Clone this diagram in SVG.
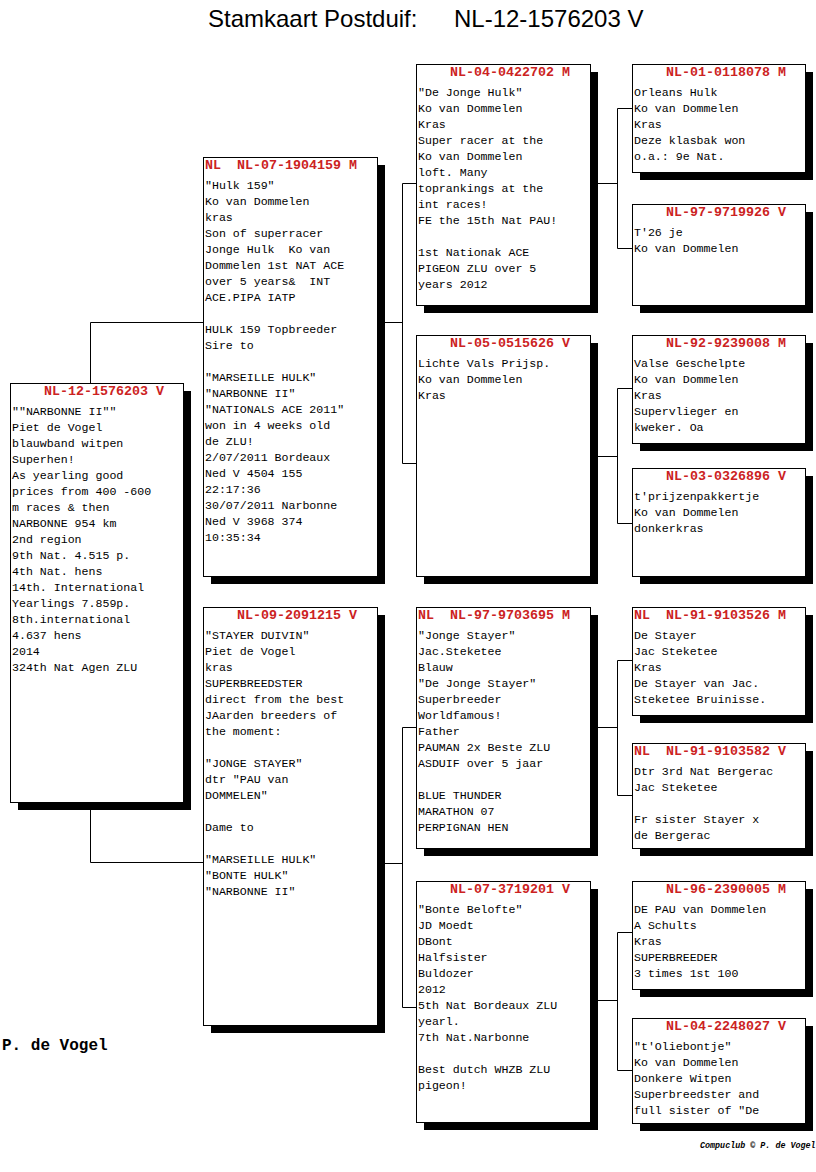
<svg xmlns="http://www.w3.org/2000/svg" width="816" height="1172" viewBox="0 0 816 1172">
<style>
.sh{fill:#000}
.box{fill:#fff;stroke:#000;stroke-width:1}
.hd{font-family:"Liberation Mono","Courier New",monospace;font-size:13.33px;font-weight:bold;fill:#cc2222}
.tx{font-family:"Liberation Mono","Courier New",monospace;font-size:11.6px;fill:#000}
.ln{stroke:#000;stroke-width:1;fill:none}
</style>
<rect width="816" height="1172" fill="#fff"/>
<text x="208" y="27" font-family="Liberation Sans, Arial, sans-serif" font-size="24" fill="#000">Stamkaart Postduif:</text>
<text x="454" y="27" font-family="Liberation Sans, Arial, sans-serif" font-size="24" fill="#000">NL-12-1576203 V</text>
<g id="connectors" class="ln">
<path d="M90.5 383V322.5H203"/>
<path d="M90.5 802V862.5H203"/>
<path d="M377 322.5H402.5M402.5 183.5V463.5M402.5 183.5H416M402.5 463.5H416"/>
<path d="M377 863.5H402.5M402.5 727.5V1007.5M402.5 727.5H416M402.5 1007.5H416"/>
<path d="M590 183.5H617.5M617.5 108.5V248.5M617.5 108.5H632M617.5 248.5H632"/>
<path d="M590 456.5H617.5M617.5 388.5V523.5M617.5 388.5H632M617.5 523.5H632"/>
<path d="M590 727.5H617.5M617.5 660.5V795.5M617.5 660.5H632M617.5 795.5H632"/>
<path d="M590 1000.5H617.5M617.5 932.5V1070.5M617.5 932.5H632M617.5 1070.5H632"/>
</g>
<g id="n_main">
<rect class="sh" x="18" y="391" width="173" height="419"/>
<rect class="box" x="10.5" y="383.5" width="173" height="419"/>
<text class="hd" x="12" y="395" xml:space="preserve">    NL-12-1576203 V</text>
<text class="tx" x="12">
<tspan x="12" y="415">""NARBONNE II""</tspan>
<tspan x="12" y="431">Piet de Vogel</tspan>
<tspan x="12" y="447">blauwband witpen</tspan>
<tspan x="12" y="463">Superhen!</tspan>
<tspan x="12" y="479">As yearling good</tspan>
<tspan x="12" y="495">prices from 400 -600</tspan>
<tspan x="12" y="511">m races &amp; then</tspan>
<tspan x="12" y="527">NARBONNE 954 km</tspan>
<tspan x="12" y="543">2nd region</tspan>
<tspan x="12" y="559">9th Nat. 4.515 p.</tspan>
<tspan x="12" y="575">4th Nat. hens</tspan>
<tspan x="12" y="591">14th. International</tspan>
<tspan x="12" y="607">Yearlings 7.859p.</tspan>
<tspan x="12" y="623">8th.international</tspan>
<tspan x="12" y="639">4.637 hens</tspan>
<tspan x="12" y="655">2014</tspan>
<tspan x="12" y="671">324th Nat Agen ZLU</tspan>
</text>
</g>
<g id="n_sire">
<rect class="sh" x="211" y="165" width="174" height="419"/>
<rect class="box" x="203.5" y="157.5" width="174" height="419"/>
<text class="hd" x="205" y="169" xml:space="preserve">NL  NL-07-1904159 M</text>
<text class="tx" xml:space="preserve">
<tspan x="205" y="189">"Hulk 159"</tspan>
<tspan x="205" y="205">Ko van Dommelen</tspan>
<tspan x="205" y="221">kras</tspan>
<tspan x="205" y="237">Son of superracer</tspan>
<tspan x="205" y="253">Jonge Hulk  Ko van</tspan>
<tspan x="205" y="269">Dommelen 1st NAT ACE</tspan>
<tspan x="205" y="285">over 5 years&amp;  INT</tspan>
<tspan x="205" y="301">ACE.PIPA IATP</tspan>
<tspan x="205" y="333">HULK 159 Topbreeder</tspan>
<tspan x="205" y="349">Sire to</tspan>
<tspan x="205" y="381">"MARSEILLE HULK"</tspan>
<tspan x="205" y="397">"NARBONNE II"</tspan>
<tspan x="205" y="413">"NATIONALS ACE 2011"</tspan>
<tspan x="205" y="429">won in 4 weeks old</tspan>
<tspan x="205" y="445">de ZLU!</tspan>
<tspan x="205" y="461">2/07/2011 Bordeaux</tspan>
<tspan x="205" y="477">Ned V 4504 155</tspan>
<tspan x="205" y="493">22:17:36</tspan>
<tspan x="205" y="509">30/07/2011 Narbonne</tspan>
<tspan x="205" y="525">Ned V 3968 374</tspan>
<tspan x="205" y="541">10:35:34</tspan>
</text>
</g>
<g id="n_dam">
<rect class="sh" x="211" y="615" width="174" height="418"/>
<rect class="box" x="203.5" y="607.5" width="174" height="418"/>
<text class="hd" x="205" y="619" xml:space="preserve">    NL-09-2091215 V</text>
<text class="tx">
<tspan x="205" y="639">"STAYER DUIVIN"</tspan>
<tspan x="205" y="655">Piet de Vogel</tspan>
<tspan x="205" y="671">kras</tspan>
<tspan x="205" y="687">SUPERBREEDSTER</tspan>
<tspan x="205" y="703">direct from the best</tspan>
<tspan x="205" y="719">JAarden breeders of</tspan>
<tspan x="205" y="735">the moment:</tspan>
<tspan x="205" y="767">"JONGE STAYER"</tspan>
<tspan x="205" y="783">dtr "PAU van</tspan>
<tspan x="205" y="799">DOMMELEN"</tspan>
<tspan x="205" y="831">Dame to</tspan>
<tspan x="205" y="863">"MARSEILLE HULK"</tspan>
<tspan x="205" y="879">"BONTE HULK"</tspan>
<tspan x="205" y="895">"NARBONNE II"</tspan>
</text>
</g>
<g id="n_ss">
<rect class="sh" x="424" y="72" width="174" height="241"/>
<rect class="box" x="416.5" y="64.5" width="174" height="241"/>
<text class="hd" x="418" y="76" xml:space="preserve">    NL-04-0422702 M</text>
<text class="tx">
<tspan x="418" y="96">"De Jonge Hulk"</tspan>
<tspan x="418" y="112">Ko van Dommelen</tspan>
<tspan x="418" y="128">Kras</tspan>
<tspan x="418" y="144">Super racer at the</tspan>
<tspan x="418" y="160">Ko van Dommelen</tspan>
<tspan x="418" y="176">loft. Many</tspan>
<tspan x="418" y="192">toprankings at the</tspan>
<tspan x="418" y="208">int races!</tspan>
<tspan x="418" y="224">FE the 15th Nat PAU!</tspan>
<tspan x="418" y="256">1st Nationak ACE</tspan>
<tspan x="418" y="272">PIGEON ZLU over 5</tspan>
<tspan x="418" y="288">years 2012</tspan>
</text>
</g>
<g id="n_sd">
<rect class="sh" x="424" y="343" width="174" height="241"/>
<rect class="box" x="416.5" y="335.5" width="174" height="241"/>
<text class="hd" x="418" y="347" xml:space="preserve">    NL-05-0515626 V</text>
<text class="tx">
<tspan x="418" y="367">Lichte Vals Prijsp.</tspan>
<tspan x="418" y="383">Ko van Dommelen</tspan>
<tspan x="418" y="399">Kras</tspan>
</text>
</g>
<g id="n_ds">
<rect class="sh" x="424" y="615" width="174" height="241"/>
<rect class="box" x="416.5" y="607.5" width="174" height="241"/>
<text class="hd" x="418" y="619" xml:space="preserve">NL  NL-97-9703695 M</text>
<text class="tx">
<tspan x="418" y="639">"Jonge Stayer"</tspan>
<tspan x="418" y="655">Jac.Steketee</tspan>
<tspan x="418" y="671">Blauw</tspan>
<tspan x="418" y="687">"De Jonge Stayer"</tspan>
<tspan x="418" y="703">Superbreeder</tspan>
<tspan x="418" y="719">Worldfamous!</tspan>
<tspan x="418" y="735">Father</tspan>
<tspan x="418" y="751">PAUMAN 2x Beste ZLU</tspan>
<tspan x="418" y="767">ASDUIF over 5 jaar</tspan>
<tspan x="418" y="799">BLUE THUNDER</tspan>
<tspan x="418" y="815">MARATHON 07</tspan>
<tspan x="418" y="831">PERPIGNAN HEN</tspan>
</text>
</g>
<g id="n_dd">
<rect class="sh" x="424" y="889" width="174" height="241"/>
<rect class="box" x="416.5" y="881.5" width="174" height="241"/>
<text class="hd" x="418" y="893" xml:space="preserve">    NL-07-3719201 V</text>
<text class="tx">
<tspan x="418" y="913">"Bonte Belofte"</tspan>
<tspan x="418" y="929">JD Moedt</tspan>
<tspan x="418" y="945">DBont</tspan>
<tspan x="418" y="961">Halfsister</tspan>
<tspan x="418" y="977">Buldozer</tspan>
<tspan x="418" y="993">2012</tspan>
<tspan x="418" y="1009">5th Nat Bordeaux ZLU</tspan>
<tspan x="418" y="1025">yearl.</tspan>
<tspan x="418" y="1041">7th Nat.Narbonne</tspan>
<tspan x="418" y="1073">Best dutch WHZB ZLU</tspan>
<tspan x="418" y="1089">pigeon!</tspan>
</text>
</g>
<g id="n_sss">
<rect class="sh" x="640" y="72" width="173" height="108"/>
<rect class="box" x="632.5" y="64.5" width="173" height="108"/>
<text class="hd" x="634" y="76" xml:space="preserve">    NL-01-0118078 M</text>
<text class="tx">
<tspan x="634" y="96">Orleans Hulk</tspan>
<tspan x="634" y="112">Ko van Dommelen</tspan>
<tspan x="634" y="128">Kras</tspan>
<tspan x="634" y="144">Deze klasbak won</tspan>
<tspan x="634" y="160">o.a.: 9e Nat.</tspan>
</text>
</g>
<g id="n_ssd">
<rect class="sh" x="640" y="212" width="173" height="101"/>
<rect class="box" x="632.5" y="204.5" width="173" height="101"/>
<text class="hd" x="634" y="216" xml:space="preserve">    NL-97-9719926 V</text>
<text class="tx">
<tspan x="634" y="236">T'26 je</tspan>
<tspan x="634" y="252">Ko van Dommelen</tspan>
</text>
</g>
<g id="n_sds">
<rect class="sh" x="640" y="343" width="173" height="108"/>
<rect class="box" x="632.5" y="335.5" width="173" height="108"/>
<text class="hd" x="634" y="347" xml:space="preserve">    NL-92-9239008 M</text>
<text class="tx">
<tspan x="634" y="367">Valse Geschelpte</tspan>
<tspan x="634" y="383">Ko van Dommelen</tspan>
<tspan x="634" y="399">Kras</tspan>
<tspan x="634" y="415">Supervlieger en</tspan>
<tspan x="634" y="431">kweker. Oa</tspan>
</text>
</g>
<g id="n_sdd">
<rect class="sh" x="640" y="476" width="173" height="108"/>
<rect class="box" x="632.5" y="468.5" width="173" height="108"/>
<text class="hd" x="634" y="480" xml:space="preserve">    NL-03-0326896 V</text>
<text class="tx">
<tspan x="634" y="500">t'prijzenpakkertje</tspan>
<tspan x="634" y="516">Ko van Dommelen</tspan>
<tspan x="634" y="532">donkerkras</tspan>
</text>
</g>
<g id="n_dss">
<rect class="sh" x="640" y="615" width="173" height="108"/>
<rect class="box" x="632.5" y="607.5" width="173" height="108"/>
<text class="hd" x="634" y="619" xml:space="preserve">NL  NL-91-9103526 M</text>
<text class="tx">
<tspan x="634" y="639">De Stayer</tspan>
<tspan x="634" y="655">Jac Steketee</tspan>
<tspan x="634" y="671">Kras</tspan>
<tspan x="634" y="687">De Stayer van Jac.</tspan>
<tspan x="634" y="703">Steketee Bruinisse.</tspan>
</text>
</g>
<g id="n_dsd">
<rect class="sh" x="640" y="751" width="173" height="105"/>
<rect class="box" x="632.5" y="743.5" width="173" height="105"/>
<text class="hd" x="634" y="755" xml:space="preserve">NL  NL-91-9103582 V</text>
<text class="tx">
<tspan x="634" y="775">Dtr 3rd Nat Bergerac</tspan>
<tspan x="634" y="791">Jac Steketee</tspan>
<tspan x="634" y="823">Fr sister Stayer x</tspan>
<tspan x="634" y="839">de Bergerac</tspan>
</text>
</g>
<g id="n_dds">
<rect class="sh" x="640" y="889" width="173" height="108"/>
<rect class="box" x="632.5" y="881.5" width="173" height="108"/>
<text class="hd" x="634" y="893" xml:space="preserve">    NL-96-2390005 M</text>
<text class="tx">
<tspan x="634" y="913">DE PAU van Dommelen</tspan>
<tspan x="634" y="929">A Schults</tspan>
<tspan x="634" y="945">Kras</tspan>
<tspan x="634" y="961">SUPERBREEDER</tspan>
<tspan x="634" y="977">3 times 1st 100</tspan>
</text>
</g>
<g id="n_ddd">
<rect class="sh" x="640" y="1026" width="173" height="105"/>
<rect class="box" x="632.5" y="1018.5" width="173" height="105"/>
<text class="hd" x="634" y="1030" xml:space="preserve">    NL-04-2248027 V</text>
<text class="tx">
<tspan x="634" y="1050">"t'Oliebontje"</tspan>
<tspan x="634" y="1066">Ko van Dommelen</tspan>
<tspan x="634" y="1082">Donkere Witpen</tspan>
<tspan x="634" y="1098">Superbreedster and</tspan>
<tspan x="634" y="1114">full sister of "De</tspan>
</text>
</g>
<text x="2" y="1050" font-family="Liberation Mono, Courier New, monospace" font-size="16" font-weight="bold" fill="#000">P. de Vogel</text>
<text x="700" y="1148" font-family="Liberation Mono, Courier New, monospace" font-size="8.4" font-weight="bold" font-style="italic" fill="#000">Compuclub © P. de Vogel</text>
</svg>
